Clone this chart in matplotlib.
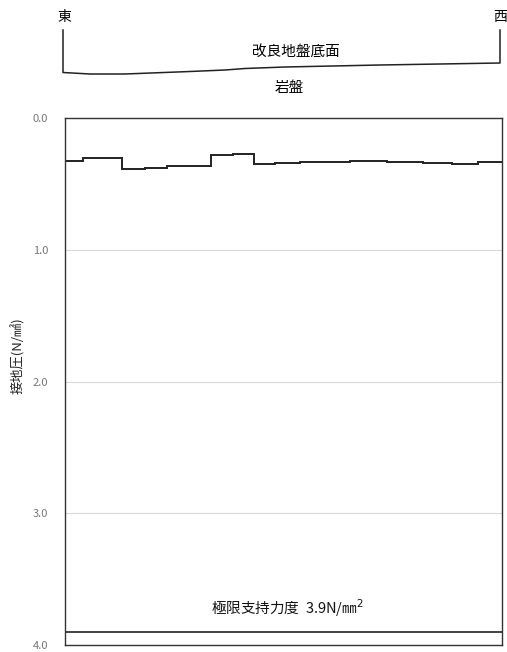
import matplotlib
matplotlib.use("Agg")
import matplotlib.pyplot as plt
import numpy as np

plt.rcParams['font.family'] = ['Noto Sans CJK JP', 'DejaVu Sans']

# Data
seg_edges = [0, 18, 35, 57, 80, 102, 146, 168, 189, 210, 235, 261, 285, 322, 358, 387, 413, 437]
seg_values = [0.324, 0.305, 0.300, 0.390, 0.377, 0.365, 0.278, 0.270, 0.352, 0.342,
              0.337, 0.334, 0.330, 0.334, 0.344, 0.352, 0.334]
limit_value = 3.9
y_ticks = [0.0, 1.0, 2.0, 3.0, 4.0]
y_tick_labels = ["0.0", "1.0", "2.0", "3.0", "4.0"]
ylabel = "接地圧(N/㎟)"
limit_label = "極限支持力度  3.9N/㎜$^2$"

# schematic profile of improved ground bottom (distance, depth)
profile_x = [0, 27, 62, 127, 162, 182, 222, 317, 437]
profile_depth = [42.5, 44, 44, 41.5, 40, 38.5, 37, 35, 33]
top_line = 0

W, H = 507, 652
fig = plt.figure(figsize=(W / 100, H / 100), dpi=100)

ax_left, ax_right = 65 / W, 502 / W
ax_top, ax_bot = 1 - 118 / H, 1 - 645 / H
ax = fig.add_axes([ax_left, ax_bot, ax_right - ax_left, ax_top - ax_bot])

xs = []
ys = []
for i, v in enumerate(seg_values):
    xs += [seg_edges[i], seg_edges[i + 1]]
    ys += [v, v]
ax.plot(xs, ys, color='#222222', lw=1.4, solid_joinstyle='miter')
ax.axhline(limit_value, color='#222222', lw=1.2)
ax.text((seg_edges[0] + seg_edges[-1]) / 2 + 4, limit_value - 0.1, limit_label,
        ha='center', va='bottom', fontsize=10.5, color='#111111')

ax.set_xlim(seg_edges[0], seg_edges[-1])
ax.set_ylim(4.0, 0.0)
ax.set_yticks(y_ticks)
ax.set_yticklabels(y_tick_labels)
ax.set_xticks([])
ax.tick_params(axis='y', length=0, pad=12, labelsize=8, labelcolor='#777777')
ax.grid(axis='y', color='#d9d9d9', lw=0.8)
ax.set_axisbelow(True)
for s in ax.spines.values():
    s.set_color('#333333')
    s.set_linewidth(1.0)

fig.text(18 / W, 1 - 356 / H, ylabel, rotation=90, ha='center', va='center',
         fontsize=9.5, color='#222222')

# Top schematic
tx_left, tx_right = 63 / W, 500 / W
tax = fig.add_axes([tx_left, 1 - 80 / H, tx_right - tx_left, 55 / H])
tax.set_xlim(profile_x[0], profile_x[-1])
tax.set_ylim(55 - 5, -5)
tax.axis('off')
tax.plot([profile_x[0]] + profile_x + [profile_x[-1]],
         [top_line] + profile_depth + [top_line],
         color='#222222', lw=1.1, clip_on=False)
fig.text(64 / W, 1 - 17 / H, "東", ha='center', va='center', fontsize=10)
fig.text(500 / W, 1 - 17 / H, "西", ha='center', va='center', fontsize=10)
fig.text(296 / W, 1 - 52 / H, "改良地盤底面", ha='center', va='center', fontsize=10.5)
fig.text(289 / W, 1 - 88 / H, "岩盤", ha='center', va='center', fontsize=10.5)

fig.savefig("out.png", dpi=100)
